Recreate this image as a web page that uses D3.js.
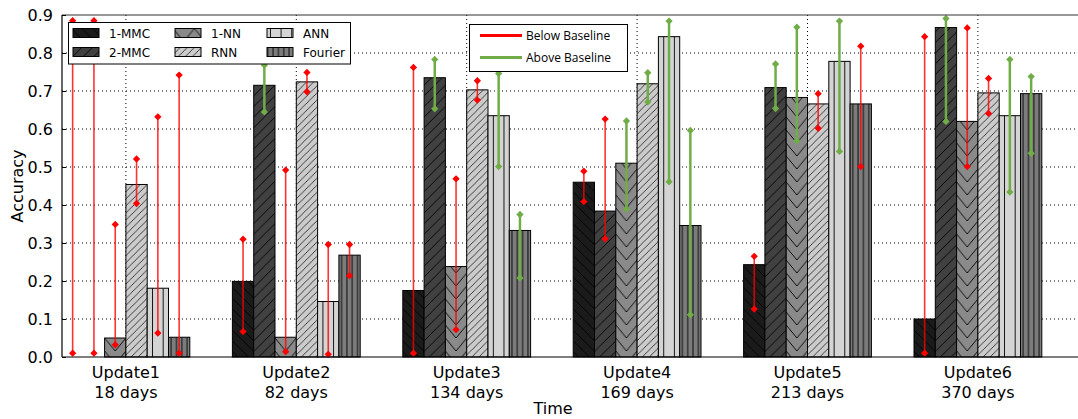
<!DOCTYPE html>
<html>
<head>
<meta charset="utf-8">
<script src="https://cdn.jsdelivr.net/npm/d3@7"></script>
<style>
  body { margin: 0; background: #fff; }
  text { font-family: "DejaVu Sans", sans-serif; }
</style>
</head>
<body>
<div class="chart"></div>
<script>
// groups on the x axis
const updates = ["Update1", "Update2", "Update3", "Update4", "Update5", "Update6"];
const days = ["18 days", "82 days", "134 days", "169 days", "213 days", "370 days"];
const series = ["1-MMC", "2-MMC", "1-NN", "RNN", "ANN", "Fourier"];
const yTicks = [0, 0.1, 0.2, 0.3, 0.4, 0.5, 0.6, 0.7, 0.8, 0.9];

// rows = series, columns = updates
const accuracy = [
    [0.000, 0.199, 0.175, 0.460, 0.243, 0.100],
    [0.000, 0.715, 0.735, 0.384, 0.709, 0.867],
    [0.050, 0.052, 0.238, 0.510, 0.683, 0.620],
    [0.454, 0.724, 0.703, 0.719, 0.666, 0.695],
    [0.181, 0.146, 0.635, 0.843, 0.778, 0.635],
    [0.052, 0.268, 0.333, 0.346, 0.666, 0.693]
];
const errLow = [
    [0.010, 0.067, 0.010, 0.409, 0.126, 0.010],
    [0.010, 0.645, 0.653, 0.311, 0.654, 0.620],
    [0.032, 0.014, 0.072, 0.389, 0.569, 0.501],
    [0.404, 0.698, 0.676, 0.671, 0.602, 0.641],
    [0.063, 0.007, 0.501, 0.461, 0.541, 0.434],
    [0.010, 0.214, 0.208, 0.111, 0.501, 0.536]
];
const errHigh = [
    [0.885, 0.310, 0.762, 0.489, 0.265, 0.843],
    [0.885, 0.768, 0.783, 0.626, 0.771, 0.891],
    [0.349, 0.492, 0.469, 0.621, 0.868, 0.866],
    [0.521, 0.749, 0.727, 0.748, 0.693, 0.733],
    [0.632, 0.296, 0.746, 0.884, 0.884, 0.783],
    [0.742, 0.296, 0.375, 0.596, 0.818, 0.738]
];
// 1 = above baseline (green), 0 = below baseline (red)
const aboveBaseline = [
    [0, 0, 0, 0, 0, 0],
    [0, 1, 1, 0, 1, 1],
    [0, 0, 0, 1, 1, 0],
    [0, 0, 0, 1, 0, 0],
    [0, 0, 1, 1, 1, 1],
    [0, 0, 1, 1, 0, 1]
];

const fills = ["#1b1b1b", "#414141", "#8a8a8a", "#cbcbcb", "#d4d4d4", "#7c7c7c"];
const RED = "#ff0000", GREEN = "#70ad47";

const width = 1078, height = 419;
const plotLeft = 62, plotTop = 15, plotBottom = 357;

const svg = d3.select('.chart')
    .append('svg')
    .attr('width', width)
    .attr('height', height);

const x = d3.scaleBand()
    .domain(updates)
    .range([plotLeft, 1041.8])
    .paddingInner(0.25)
    .paddingOuter(0);

const xs = d3.scaleBand()
    .domain(series)
    .range([0, x.bandwidth()]);

const bw = xs.bandwidth();

const y = d3.scaleLinear()
    .domain([0, 0.9])
    .range([plotBottom, plotTop]);

// hatch patterns, tiles sized on the bar width so every bar lines up
const defs = svg.append("defs");
function pattern(id, color, w, h, paths, sw) {
    const p = defs.append("pattern")
        .attr("id", id)
        .attr("patternUnits", "userSpaceOnUse")
        .attr("x", plotLeft).attr("y", 0)
        .attr("width", w).attr("height", h);
    p.append("rect").attr("width", w).attr("height", h).attr("fill", color);
    paths.forEach(d => p.append("path").attr("d", d)
        .attr("stroke", "#000").attr("stroke-width", sw || 0.9).attr("fill", "none"));
}
const h1 = bw / 2;
pattern("p0", fills[0], h1, h1, [`M0,0L${h1},${h1}`, `M${-h1/2},${h1/2}L${h1/2},${h1*1.5}`, `M${h1/2},${-h1/2}L${h1*1.5},${h1/2}`]);
pattern("p1", fills[1], h1, h1, [`M0,${h1}L${h1},0`, `M${-h1/2},${h1/2}L${h1/2},${-h1/2}`, `M${h1/2},${h1*1.5}L${h1*1.5},${h1/2}`]);
pattern("p2", fills[2], bw, 13, [`M0,0L${bw/2},13L${bw},0`]);
const h3 = bw / 3;
pattern("p3", fills[3], h3, h3, [`M0,${h3}L${h3},0`, `M${-h3/2},${h3/2}L${h3/2},${-h3/2}`, `M${h3/2},${h3*1.5}L${h3*1.5},${h3/2}`], 0.7);
pattern("p4", fills[4], bw / 2, 10, [`M${bw/4},0V10`]);
pattern("p5", fills[5], bw / 4, 10, [`M${bw/8},0V10`]);

// grid
svg.append("g").selectAll("line")
    .data(yTicks.slice(1, -1))
    .enter()
    .append("line")
    .attr("x1", plotLeft).attr("x2", width)
    .attr("y1", d => y(d)).attr("y2", d => y(d))
    .attr("stroke", "#000").attr("stroke-width", 1)
    .attr("stroke-dasharray", "1,3");

svg.append("g").selectAll("line")
    .data(updates)
    .enter()
    .append("line")
    .attr("x1", d => x(d) + x.bandwidth() / 2).attr("x2", d => x(d) + x.bandwidth() / 2)
    .attr("y1", plotTop).attr("y2", plotBottom)
    .attr("stroke", "#000").attr("stroke-width", 1)
    .attr("stroke-dasharray", "1,3");

// bars
const cells = [];
series.forEach((s, i) => {
    updates.forEach((u, j) => {
        cells.push({ s: s, si: i, u: u, v: accuracy[i][j], lo: errLow[i][j], hi: errHigh[i][j], up: aboveBaseline[i][j] });
    });
});

svg.append("g").selectAll("rect")
    .data(cells.filter(d => d.v > 0))
    .enter()
    .append("rect")
    .attr("x", d => x(d.u) + xs(d.s))
    .attr("y", d => y(d.v))
    .attr("width", bw)
    .attr("height", d => y(0) - y(d.v))
    .attr("fill", d => "url(#p" + d.si + ")")
    .attr("stroke", "#000")
    .attr("stroke-width", 1);

// error bars
const err = svg.append("g").selectAll("g")
    .data(cells)
    .enter()
    .append("g")
    .attr("transform", d => `translate(${x(d.u) + xs(d.s) + bw / 2},0)`);

err.append("line")
    .attr("y1", d => y(d.lo)).attr("y2", d => y(d.hi))
    .attr("stroke", d => d.up ? GREEN : RED)
    .attr("stroke-opacity", d => d.up ? 1 : 0.8)
    .attr("stroke-width", d => d.up ? 2.5 : 1.6);

const diamond = d3.symbol().type(d3.symbolDiamond2).size(34);
["lo", "hi"].forEach(k => {
    err.append("path")
        .attr("d", diamond)
        .attr("transform", d => `translate(0,${y(d[k])})`)
        .attr("fill", d => d.up ? GREEN : RED);
});

// axes frame
svg.append("line").attr("x1", plotLeft).attr("x2", width).attr("y1", plotTop).attr("y2", plotTop)
    .attr("stroke", "#333").attr("stroke-width", 1.2);
svg.append("line").attr("x1", plotLeft).attr("x2", width).attr("y1", plotBottom).attr("y2", plotBottom)
    .attr("stroke", "#000").attr("stroke-width", 1.2);
svg.append("line").attr("x1", plotLeft).attr("x2", plotLeft).attr("y1", plotTop).attr("y2", plotBottom)
    .attr("stroke", "#000").attr("stroke-width", 1.2);

// y axis ticks inside
const yAxis = d3.axisLeft(y)
    .tickValues(yTicks)
    .tickFormat(d3.format(".1f"))
    .tickSizeInner(-4)
    .tickSizeOuter(0)
    .tickPadding(9);
const gy = svg.append("g")
    .attr("transform", `translate(${plotLeft},0)`)
    .call(yAxis);
gy.select(".domain").remove();
gy.selectAll("text").attr("font-size", 16).attr("fill", "#000")
    .attr("font-family", "DejaVu Sans");

// x labels
const gx = svg.append("g").selectAll("g")
    .data(updates)
    .enter()
    .append("g")
    .attr("transform", d => `translate(${x(d) + x.bandwidth() / 2},0)`);
gx.append("text")
    .attr("y", 378)
    .attr("text-anchor", "middle")
    .attr("font-size", 16)
    .text(d => d);
gx.append("text")
    .attr("y", 398)
    .attr("text-anchor", "middle")
    .attr("font-size", 16)
    .text((d, i) => days[i]);

svg.append("text")
    .attr("x", 553).attr("y", 414)
    .attr("text-anchor", "middle")
    .attr("font-size", 16)
    .text("Time");

svg.append("text")
    .attr("transform", "translate(23,186) rotate(-90)")
    .attr("text-anchor", "middle")
    .attr("font-size", 16)
    .text("Accuracy");

// model legend
const lg = svg.append("g");
lg.append("rect")
    .attr("x", 68.5).attr("y", 22.5).attr("width", 282).attr("height", 41.5)
    .attr("fill", "#fff").attr("stroke", "#000").attr("stroke-width", 1);
const colX = [73, 175, 267];
const items = lg.selectAll("g")
    .data(series)
    .enter()
    .append("g")
    .attr("transform", (d, i) => `translate(${colX[Math.floor(i / 2)]},${i % 2 === 0 ? 28.5 : 47.5})`);
items.append("rect")
    .attr("width", 26).attr("height", 9)
    .attr("fill", (d, i) => "url(#p" + i + ")")
    .attr("stroke", "#000").attr("stroke-width", 1);
items.append("text")
    .attr("x", 36).attr("y", 9)
    .attr("font-size", 12)
    .text(d => d);

// baseline legend
const bl = svg.append("g");
bl.append("rect")
    .attr("x", 469.5).attr("y", 24.5).attr("width", 158).attr("height", 47)
    .attr("fill", "#fff").attr("stroke", "#000").attr("stroke-width", 1);
const baseItems = [["Below Baseline", RED], ["Above Baseline", GREEN]];
baseItems.forEach((b, i) => {
    const yy = i === 0 ? 35.5 : 57.5;
    bl.append("line").attr("x1", 480).attr("x2", 522).attr("y1", yy).attr("y2", yy)
        .attr("stroke", b[1]).attr("stroke-width", 3);
    bl.append("text").attr("x", 526).attr("y", yy + 4.5)
        .style("font-family", "'Open Sans'")
        .attr("font-size", 12)
        .text(b[0]);
});
</script>
</body>
</html>
